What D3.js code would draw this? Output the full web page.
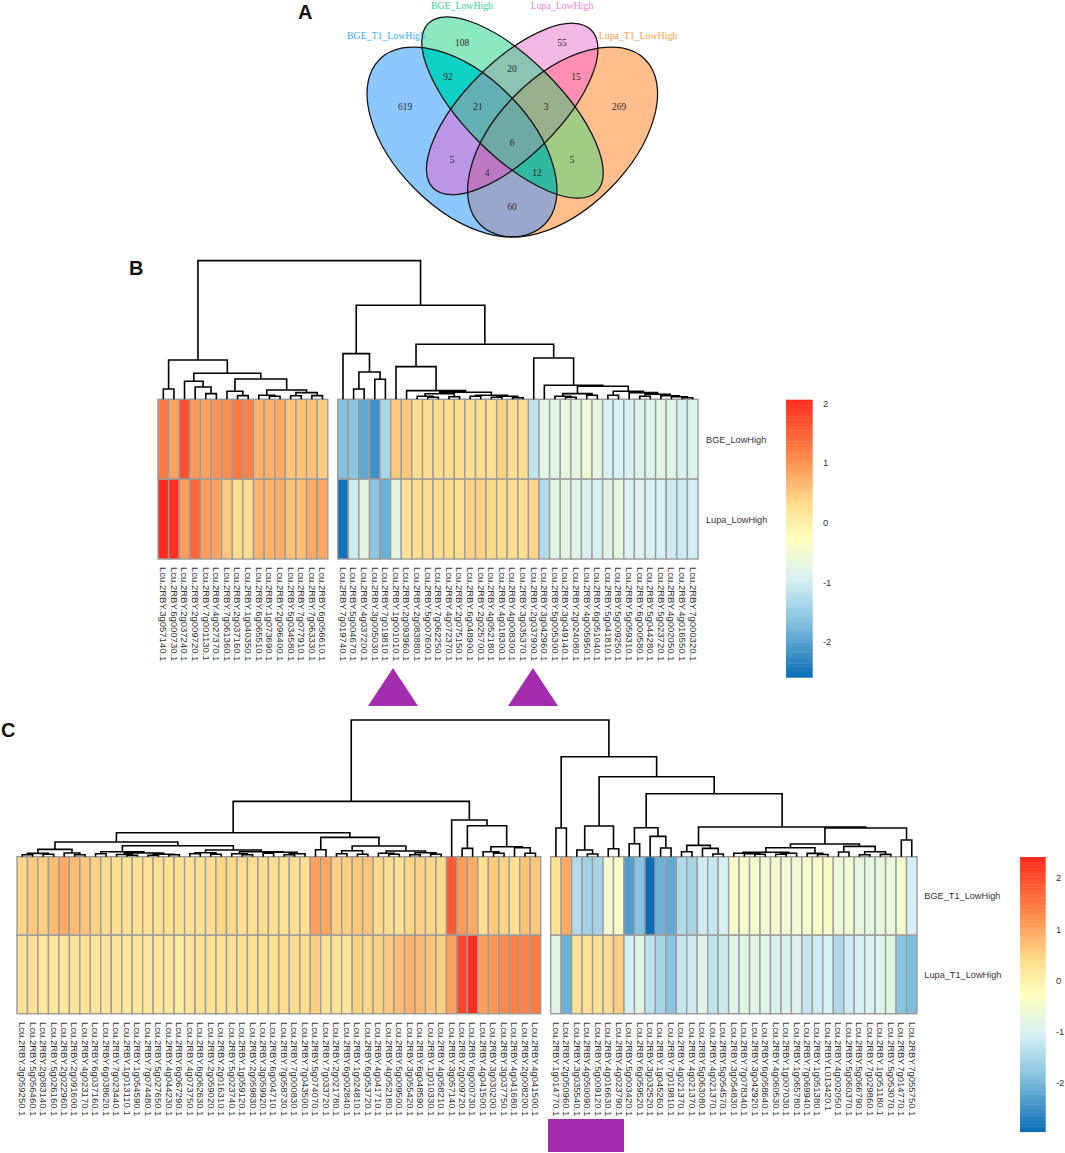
<!DOCTYPE html>
<html>
<head>
<meta charset="utf-8">
<script src="https://d3js.org/d3.v7.min.js"></script>
<style>
html,body{margin:0;padding:0;background:#fff}
svg{display:block}
</style>
</head>
<body>
<svg id="chart" width="1065" height="1153"></svg>
<script>
// ---------- DATA ----------
const vennSetNames = ["BGE_T1_LowHigh","BGE_LowHigh","Lupa_LowHigh","Lupa_T1_LowHigh"];
const vennRegions = ["0","1","2","3","01","12","23","02","13","03","012","123","023","013","0123"];
const vennCounts  = [619,108,55,269,92,20,15,5,5,60,21,3,4,12,6];

const rowsB = ["BGE_LowHigh","Lupa_LowHigh"];
const genesB1 = ["3g057140","6g000730","2g037240","2g009720","7g001130","4g027370","7g061360","2g037160","1g040350","6g065510","1g073690","2g096400","5g034580","7g077910","7g063330","6g056610"];
const genesB2 = ["7g019740","5g004670","4g037200","3g005030","7g019810","1g001010","2g093960","2g083880","5g007600","7g062250","4g072370","2g075150","6g048900","2g025700","4g052180","4g018300","4g008300","3g035370","2g037900","3g042960","5g005300","3g049140","2g024080","4g005950","6g051040","5g041810","5g009250","5g059310","6g000580","5g044280","5g023720","4g002050","4g016550","7g000320"];
const valsB1top = [1.25,.85,1.65,.95,.85,1.0,1.05,1.3,1.15,.72,.72,.78,.52,.55,.55,.45];
const valsB1bot = [2.05,2.0,.9,1.45,.9,.85,.5,.3,.28,.7,.7,.75,.55,.58,.78,.82];
const valsB2top = [-1.67,-1.6,-1.95,-2.2,-1.35,.48,.52,.27,.3,.3,.28,.28,.28,.28,.28,.42,.28,.28,-1.15,-.8,-.78,-.7,-.75,-.55,-.7,-.93,-.97,-.97,-.82,-.85,-.75,-.82,-.93,-.85];
const valsB2bot = [-2.55,-1.05,-.72,-1.6,-1.85,-.72,.2,.26,.3,.3,.3,.27,.38,.42,.32,.3,.3,.28,.37,-1.3,-.75,-.72,-.8,-.9,-.95,-.78,-.7,-.92,-.85,-.95,-.95,-1.05,-1.05,-1.0];
const legendTicksB = [2,1,0,-1,-2];

const rowsC = ["BGE_T1_LowHigh","Lupa_T1_LowHigh"];
const genesC1 = ["3g059250","5g056460","2g083140","5g026160","2g022960","2g091600","4g023170","6g037160","6g038620","7g023440","1g013110","1g054590","7g074480","5g027650","4g044230","6g067290","4g073750","6g062630","2g059020","2g016310","5g023740","1g059120","2g059830","3g059920","6g004710","7g058730","7g000830","7g043500","5g074070","7g033720","2g021780","6g002840","1g024810","6g053720","4g041710","4g052180","5g009500","3g055420","6g048590","1g010330","4g058210","3g057140","2g009720","6g000730","4g041500","3g030200","3g037750","4g041680","2g008200","4g041500"];
const genesC2 = ["1g014770","2g050960","3g035540","4g050090","5g009120","4g016630","4g023790","5g003420","6g059520","3g032520","1g045260","7g019810","4g021370","4g021370","5g063080","4g021370","5g054570","3g054830","7g078340","3g042920","6g058640","4g060530","1g007030","1g065780","7g069940","1g051380","L013420","4g002050","5g060370","5g066790","7g029860","1g051180","5g053070","7g014770","7g055750"];
const valsC1top = [.45,.6,.55,.75,.95,.75,.65,.5,.38,.33,.3,.3,.3,.3,.3,.3,.3,.3,.33,.45,.4,.35,.35,.35,.33,.3,.33,.35,1.05,1.0,.55,.55,.62,.65,.4,.38,.3,.48,.5,.45,.4,1.85,1.1,.95,.35,.6,.48,.3,.68,.62];
const valsC1bot = [.27,.25,.18,.18,.2,.22,.25,.22,.22,.22,.2,.2,.2,.18,.2,.12,.22,.27,.27,.25,.27,.32,.32,.3,.32,.38,.35,.38,.55,.28,.3,.22,.5,.48,.5,.6,.72,.85,.78,.65,.55,1.05,2.1,2.38,1.05,1.15,1.3,1.4,1.35,1.45];
const valsC2top = [.3,.95,-1.45,-1.6,-1.55,-.55,-.4,-2.35,-1.85,-2.95,-2.1,-2.2,-1.45,-1.55,-1.15,-1.25,-1.1,-.45,-.45,-.5,-.55,-.55,-.55,-.55,-.45,-.42,-.42,-.65,-.55,-.75,-.78,-.78,-.72,-.5,-1.1];
const valsC2bot = [-.85,-2.1,.25,.3,.28,.33,.55,-1.1,-.85,-1.35,-1.55,-1.85,-1.25,-1.15,-.9,-1.3,-1.2,-.9,-.85,-.88,-.92,-1.0,-1.0,-.95,-1.25,-1.15,-1.05,-1.5,-1.15,-1.05,-1.05,-.95,-.85,-1.85,-1.95];
const legendTicksC = [2,1,0,-1,-2];

// Dendrograms: [height, left, right]; 0 is a leaf, taken in column order
const treeB = [138.7,
  [39.3,[10.3,0,0],[26,[18,0,[12.3,0,[5.7,0,0]]],[20.3,[8,0,[3.7,0,0]],[9.3,[4,0,[3,0,0]],[6.7,[3.5,0,0],[3.7,0,0]]]]]],
  [94,[45.7,0,[27.3,[10.3,0,0],[20,0,0]]],
    [55,[32.7,0,[8.7,0,[7,[5.5,[3,0,[2,0,0]],[2.5,0,0]],[4,[3,0,0],[3,[2,0,0],[1.5,0,0]]]]]],
      [41.3,0,[14,0,[13,[5.7,[3,0,[2,0,0]],[4,0,0]],[8,[4,0,0],[6.7,0,[5,[3,0,0],[3.5,0,[2.5,0,[1.5,0,0]]]]]]]]]]]];
const treeC = [136.7,
  [55.3,
    [24,
      [14.7,[7.3,[3.3,[2,0,0],[2.5,0,0]],[3.7,0,[2,0,0]]],
        [11,[5,[3,0,0],[3.7,[2.2,0,[1.5,0,0]],[2.5,[1.5,0,0],[2,0,0]]]],
            [6.7,[4,[3,0,0],[2.5,0,0]],[5,[3,0,[2,0,0]],[4.5,[3.5,0,0],[3,[2,0,0],0]]]]]],
      [19.3,[7,0,0],[10.7,[6,[3,0,0],[2.5,0,0]],[5.7,[3.5,0,[2.5,0,0]],[4,[2,0,0],[2.5,0,0]]]]]],
    [36.7,0,[31,[8.3,0,0],[10,[5,0,[3.5,0,0]],[9,0,[3.5,0,0]]]]]],
  [100,[28.7,0,0],
    [80,[30.7,[6.7,0,[2.7,0,0]],[8,0,0]],
      [63,[29,[13,0,0],[20.3,0,[8.7,0,0]]],
        [29.7,[11.3,[5,0,0],[8.3,0,[2.7,0,0]]],
          [28.7,[12.7,[9,[4.5,[3.5,0,[3,0,[2.5,0,0]]],[3.5,[2.5,0,0],0]],[3.3,0,[2.2,0,0]]],
                [10.3,[4.7,0,0],[5,[2,0,0],[2.3,0,0]]]],[16.7,0,0]]]]]]];

// ---------- LAYOUT / STYLE ----------
const rampStops  = [0,.2,.375,.5,.65,.8,1];
const rampColors = ["#FF2A1E","#FE8648","#FEDC8C","#FFFFBE","#D6F0F4","#84C1DE","#0A6DB5"];
const ARIAL = "'Liberation Sans',Arial,sans-serif", SERIF = "'Liberation Serif','Times New Roman',serif";
const TXT = "#333333", GRID = "#9c9c9c";

const vennEllipses = [
  {cx:462,  cy:142,  a:116.7,b:66.5,rot:45, fill:"#8CC8FF"},
  {cx:512.5,cy:107.5,a:119,  b:48,  rot:45, fill:"#8CE8C0"},
  {cx:512.2,cy:109,  a:111.8,b:47,  rot:-45,fill:"#F4B8E6"},
  {cx:562.6,cy:142,  a:116.7,b:66.5,rot:-45,fill:"#FFBE8C"}];
const vennFills = ["#8CC8FF","#8CE8C0","#F4B8E6","#FFBE8C","#0FD0C4","#8CC4B4","#FF90B4","#BC96E6","#A0CC84","#98A8CC","#62B0B4","#98B08C","#BC78C0","#30B8A0","#6EAAA4"];
const vennLabelXY = [[405,107],[462,43],[562,43],[619,107],[448,77],[512,69],[576,77],[452,160],[572,160],[512,207],[478,107],[546,107],[487,173],[537,173],[512,143]];
const vennTitleXY = [[386,36],[462,6],[562,6],[638,36]];
const vennTitleColors = ["#39A9FF","#2FD691","#EE82DD","#FF9A3C"];

const svg = d3.select("#chart");
svg.append("rect").attr("width",1065).attr("height",1153).attr("fill","#fff");

// ---------- PANEL LETTERS ----------
[["A",298,18.5],["B",129,275],["C",1,737]].forEach(([t,x,y])=>{
  svg.append("text").text(t).attr("x",x).attr("y",y)
    .attr("font-family",ARIAL).attr("font-weight","bold").attr("font-size",20).attr("fill","#111");
});

// ---------- VENN ----------
const venn = svg.append("g");
const defs = svg.append("defs");
const ellipseAttrs = (sel)=>sel.attr("cx",d=>d.cx).attr("cy",d=>d.cy).attr("rx",d=>d.a).attr("ry",d=>d.b)
  .attr("transform",d=>`rotate(${d.rot} ${d.cx} ${d.cy})`);
vennEllipses.forEach((d,i)=>{
  defs.append("clipPath").attr("id","vc"+i).datum(d).append("ellipse").call(ellipseAttrs);
});
vennRegions.forEach((key,i)=>{
  let g = venn;
  key.split("").forEach(k=>{ g = g.append("g").attr("clip-path",`url(#vc${k})`); });
  g.append("rect").attr("x",340).attr("y",0).attr("width",340).attr("height",245).attr("fill",vennFills[i]);
});
venn.selectAll("ellipse.o").data(vennEllipses).join("ellipse").attr("class","o").call(ellipseAttrs)
  .attr("fill","none").attr("stroke","#111").attr("stroke-width",1.25);
venn.selectAll("text.n").data(vennCounts).join("text").attr("class","n")
  .attr("x",(d,i)=>vennLabelXY[i][0]).attr("y",(d,i)=>vennLabelXY[i][1]).attr("dy","0.33em")
  .attr("text-anchor","middle").attr("font-family",SERIF).attr("font-size",9.5).attr("fill","#2b2b2b").text(d=>d);
venn.selectAll("text.t").data(vennSetNames).join("text").attr("class","t")
  .attr("x",(d,i)=>vennTitleXY[i][0]).attr("y",(d,i)=>vennTitleXY[i][1]).attr("dy","0.33em")
  .attr("text-anchor","middle").attr("font-family",SERIF).attr("font-size",9.8)
  .attr("fill",(d,i)=>vennTitleColors[i]).text(d=>d);

// ---------- HEATMAPS ----------
function drawHeatmap(o){
  const g = svg.append("g");
  const color = d3.scaleLinear()
    .domain(rampStops.map(t=>o.legendMax - t*(o.legendMax-o.legendMin)))
    .range(rampColors).clamp(true);
  const yBand = d3.scaleBand().domain(o.rows).range([o.top,o.bottom]);
  const centers = [];
  o.blocks.forEach((b,bi)=>{
    const x = d3.scaleBand().domain(d3.range(b.genes.length)).range([b.x0,b.x1]);
    const bg = g.append("g");
    [b.top,b.bot].forEach((vals,ri)=>{
      bg.selectAll(null).data(vals).join("rect")
        .attr("x",(d,i)=>x(i)).attr("y",yBand(o.rows[ri]))
        .attr("width",x.bandwidth()).attr("height",yBand.bandwidth())
        .attr("fill",d=>color(d)).attr("stroke",GRID).attr("stroke-width",1.4);
    });
    b.genes.forEach((s,i)=>centers.push(x(i)+x.bandwidth()/2));
    bg.selectAll(null).data(b.genes).join("text")
      .attr("transform",(d,i)=>`translate(${x(i)+x.bandwidth()/2},${o.bottom+o.labelGap}) rotate(90)`)
      .attr("dy","0.33em").attr("font-family",ARIAL).attr("font-size",9.5).attr("fill",TXT)
      .text(d=>`Lcu.2RBY.${d}.1`);
  });
  // row labels
  g.selectAll(null).data(o.rows).join("text")
    .attr("x",o.rowLabelX).attr("y",d=>yBand(d)+yBand.bandwidth()/2+ o.rowLabelDy).attr("dy","0.33em")
    .attr("font-family",ARIAL).attr("font-size",9.2).attr("fill",TXT).text(d=>d);
  // dendrogram
  const yTree = d3.scaleLinear().domain([0,o.tree[0]]).range([o.top,o.top-o.tree[0]]);
  let leaf = 0;
  const path = d3.path();
  (function walk(n){
    if(n===0){ return {x:centers[leaf++],h:0}; }
    const l = walk(n[1]), r = walk(n[2]);
    path.moveTo(l.x,yTree(l.h)); path.lineTo(l.x,yTree(n[0])); path.lineTo(r.x,yTree(n[0])); path.lineTo(r.x,yTree(r.h));
    return {x:(l.x+r.x)/2,h:n[0]};
  })(o.tree);
  g.append("path").attr("d",path.toString()).attr("fill","none").attr("stroke","#000")
   .attr("stroke-width",1.6).attr("stroke-linejoin","miter");
  // colour bar
  const yBar = d3.scaleLinear().domain([o.legendMax,o.legendMin]).range([o.barTop,o.barBottom]);
  const steps = d3.range(100).map(i=>o.legendMax - (i+.5)/100*(o.legendMax-o.legendMin));
  const h = (o.barBottom-o.barTop)/100;
  g.selectAll(null).data(steps).join("rect").attr("x",o.barX).attr("width",o.barW)
    .attr("y",d=>yBar(d)-h/2).attr("height",h+.4).attr("fill",d=>color(d));
  const ax = g.append("g").attr("transform",`translate(${o.barX+o.barW},0)`)
    .call(d3.axisRight(yBar).tickValues(o.ticks).tickSize(0).tickPadding(10.3).tickFormat(d=>String(d)));
  ax.select(".domain").remove();
  ax.selectAll("text").attr("font-family",ARIAL).attr("font-size",9.4).attr("fill",TXT);
}

drawHeatmap({
  rows:rowsB, top:399.3, bottom:559, labelGap:8, rowLabelX:706, rowLabelDy:0.5,
  blocks:[{genes:genesB1,x0:158,x1:327.8,top:valsB1top,bot:valsB1bot},
          {genes:genesB2,x0:337.7,x1:698,top:valsB2top,bot:valsB2bot}],
  tree:treeB, legendMax:2.06, legendMin:-2.6, ticks:legendTicksB,
  barX:786, barW:26.7, barTop:399.7, barBottom:677.3
});
drawHeatmap({
  rows:rowsC, top:856.7, bottom:1013.7, labelGap:8.3, rowLabelX:924.3, rowLabelDy:0.5,
  blocks:[{genes:genesC1,x0:17,x1:540.7,top:valsC1top,bot:valsC1bot},
          {genes:genesC2,x0:550.7,x1:917,top:valsC2top,bot:valsC2bot}],
  tree:treeC, legendMax:2.41, legendMin:-2.97, ticks:legendTicksC,
  barX:1020, barW:25.7, barTop:857, barBottom:1131.7
});

// ---------- MARKERS ----------
const PURPLE = "#A42CAE";
[393,533].forEach(cx=>{
  const p = d3.path(); p.moveTo(cx,668); p.lineTo(cx+25,706); p.lineTo(cx-25,706); p.closePath();
  svg.append("path").attr("d",p.toString()).attr("fill",PURPLE);
});
svg.append("rect").attr("x",548).attr("y",1119).attr("width",76).attr("height",33).attr("fill",PURPLE);
</script>
</body>
</html>
